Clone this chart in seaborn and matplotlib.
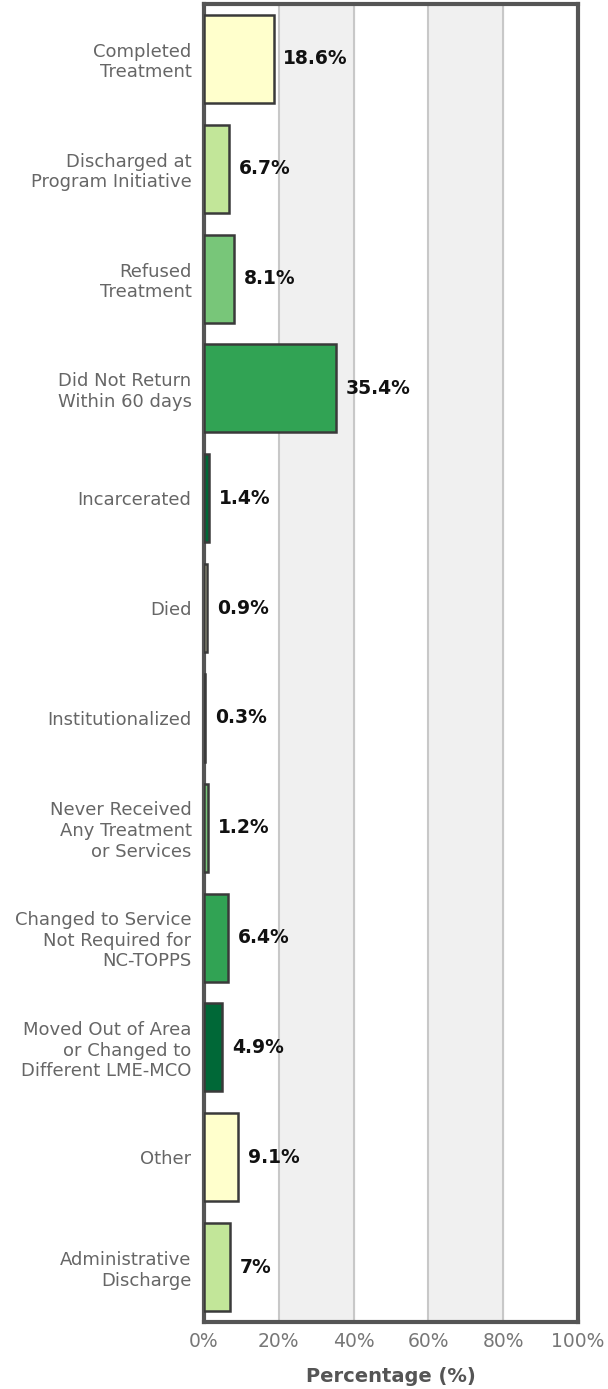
import matplotlib
matplotlib.use('Agg')
import matplotlib.pyplot as plt
import seaborn as sns
import pandas as pd

categories = ['Completed\nTreatment', 'Discharged at\nProgram Initiative', 'Refused\nTreatment',
              'Did Not Return\nWithin 60 days', 'Incarcerated', 'Died', 'Institutionalized',
              'Never Received\nAny Treatment\nor Services', 'Changed to Service\nNot Required for\nNC-TOPPS',
              'Moved Out of Area\nor Changed to\nDifferent LME-MCO', 'Other', 'Administrative\nDischarge']
values = [18.6, 6.7, 8.1, 35.4, 1.4, 0.9, 0.3, 1.2, 6.4, 4.9, 9.1, 7.0]
value_labels = ['18.6%', '6.7%', '8.1%', '35.4%', '1.4%', '0.9%', '0.3%', '1.2%', '6.4%', '4.9%', '9.1%', '7%']
base_colors = ['#ffffcc', '#c2e699', '#78c679', '#31a354', '#006837']
colors = [base_colors[i % 5] for i in range(len(categories))]

df = pd.DataFrame({'cat': categories, 'val': values})

sns.set_style('white')
plt.rcParams['font.family'] = ['DejaVu Sans']

fig = plt.figure(figsize=(6.08, 13.89), dpi=100)
ax = fig.add_axes([204 / 608, 1 - 1322 / 1389, 374 / 608, 1318 / 1389])

# alternating bands
for lo in (20, 60):
    ax.axvspan(lo, lo + 20, color='#f0f0f0', zorder=0)
for g in (20, 40, 60, 80):
    ax.axvline(g, color='#c8c8c8', lw=1.5, zorder=1)

sns.barplot(data=df, y='cat', x='val', hue='cat', palette=colors, legend=False,
            orient='h', width=0.8, saturation=1, edgecolor='#3a3a3a', linewidth=1.8,
            ax=ax, zorder=3)

for i, (v, lab) in enumerate(zip(values, value_labels)):
    ax.annotate(lab, (v, i), xytext=(7, 0), textcoords='offset points',
                va='center', ha='left', fontsize=13.5, fontweight='bold',
                color='#111111', zorder=4)

ax.set_xlim(0, 100)
ax.set_ylim(11.5, -0.5)
ax.set_xticks([0, 20, 40, 60, 80, 100])
ax.set_xticklabels(['0%', '20%', '40%', '60%', '80%', '100%'], fontsize=13.5, color='#777777')
ax.set_ylabel('')
ax.set_xlabel('Percentage (%)', fontsize=14, fontweight='bold', color='#555555', labelpad=12)
ax.tick_params(axis='y', labelsize=13, colors='#666666', length=0, pad=9)
ax.tick_params(axis='x', length=0, pad=7)
for lab in ax.get_yticklabels():
    lab.set_horizontalalignment('right')
    lab.set_multialignment('right')
    lab.set_linespacing(1.18)
for s in ax.spines.values():
    s.set_color('#555555')
    s.set_linewidth(3)
    s.set_visible(True)

fig.savefig('out.png', dpi=100, facecolor='white')
